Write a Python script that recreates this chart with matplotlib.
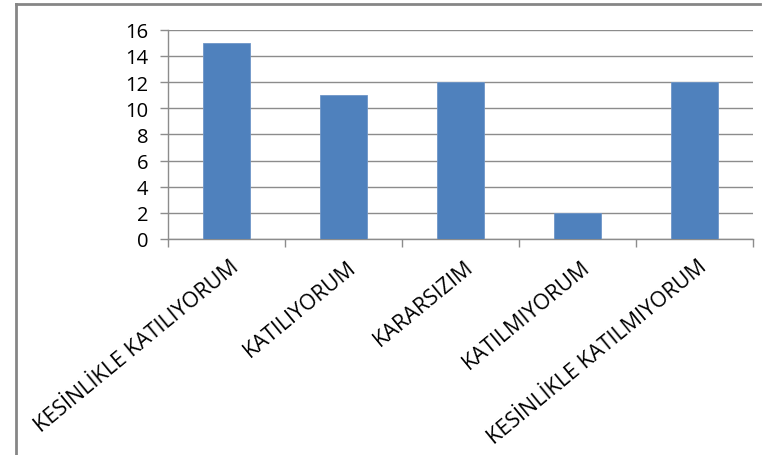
import matplotlib
matplotlib.use("Agg")
import matplotlib.pyplot as plt
import matplotlib.transforms as mtransforms
from matplotlib.lines import Line2D

plt.rcParams['font.family'] = ['Open Sans', 'DejaVu Sans']

categories = ["KESİNLİKLE KATILIYORUM", "KATILIYORUM", "KARARSIZIM",
              "KATILMIYORUM", "KESİNLİKLE KATILMIYORUM"]
values = [15, 11, 12, 2, 12]
y_ticks = [0, 2, 4, 6, 8, 10, 12, 14, 16]

fig = plt.figure(figsize=(7.70, 4.56), dpi=100)
ax = fig.add_axes([168 / 770, 1 - 240 / 456, (753 - 168) / 770, (240 - 30.7) / 456])

x = list(range(len(categories)))
ax.bar(x, values, width=0.4, color='#4F81BD', edgecolor='#6F96C8', linewidth=0.6, zorder=3)

ax.set_xlim(-0.5, len(categories) - 0.5)
ax.set_ylim(0, 16)
ax.set_yticks(y_ticks)
ax.set_yticklabels([str(v) for v in y_ticks], fontsize=14.5)
ax.yaxis.grid(True, color='#8C8C8C', linewidth=1.0, zorder=0)

# category ticks sit at the boundaries, labels are drawn by hand
ax.set_xticks([i - 0.5 for i in range(len(categories) + 1)])
ax.set_xticklabels([])
ax.tick_params(axis='x', length=6, color='#8C8C8C', width=1)
ax.tick_params(axis='y', length=6, color='#8C8C8C', width=1, pad=8)

for side in ['top', 'right']:
    ax.spines[side].set_visible(False)
for side in ['left', 'bottom']:
    ax.spines[side].set_color('#8C8C8C')
    ax.spines[side].set_linewidth(1)

trans = mtransforms.blended_transform_factory(ax.transData, ax.transAxes)
off = mtransforms.ScaledTranslation(10 / 100, -25 / 100, fig.dpi_scale_trans)
for i, lab in enumerate(categories):
    ax.text(i, 0, lab, transform=trans + off, rotation=39.5, rotation_mode='anchor',
            ha='right', va='center', fontsize=15.5)

# outer chart frame (left and top edges visible)
fig.add_artist(Line2D([16 / 770, 16 / 770], [0, 1 - 5 / 456], transform=fig.transFigure,
                      color='#868686', linewidth=2))
fig.add_artist(Line2D([16 / 770, 760 / 770], [1 - 5 / 456, 1 - 5 / 456], transform=fig.transFigure,
                      color='#868686', linewidth=2))

fig.savefig('out.png', dpi=100)
